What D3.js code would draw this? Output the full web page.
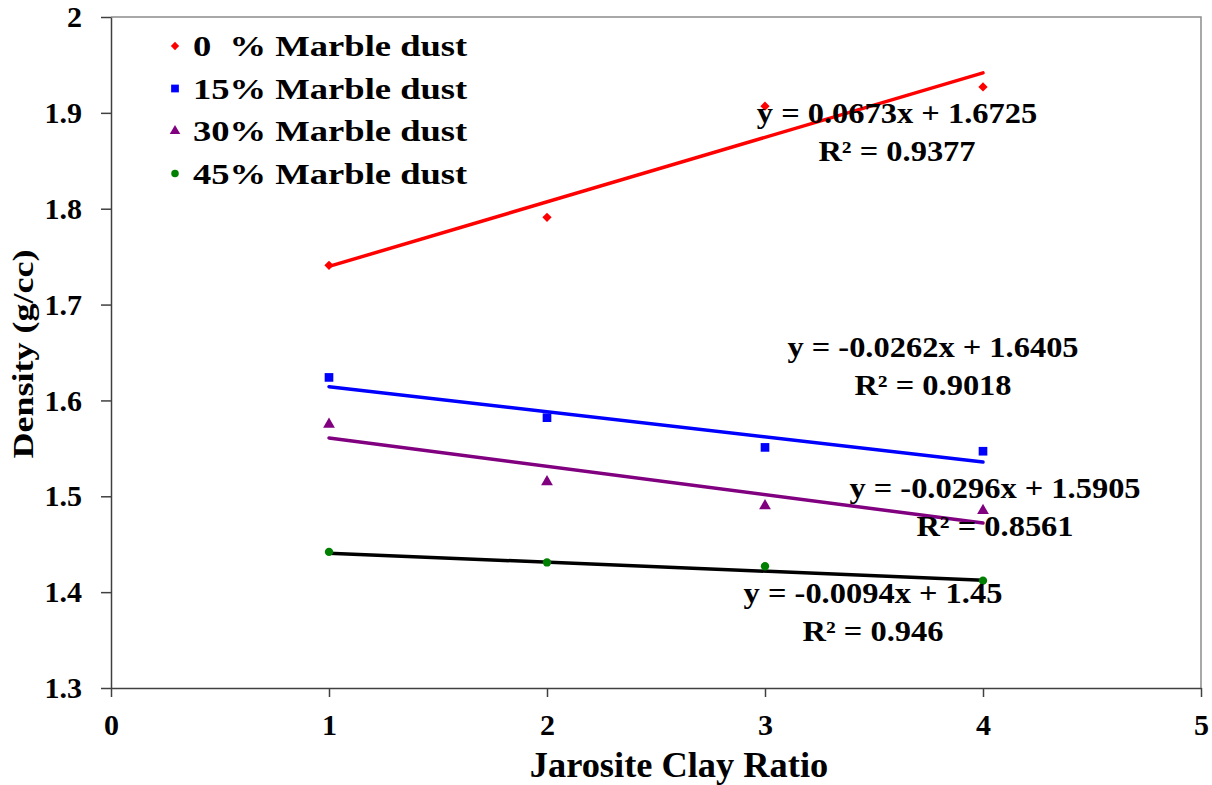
<!DOCTYPE html>
<html>
<head>
<meta charset="utf-8">
<script src="https://cdn.jsdelivr.net/npm/d3@7"></script>
<style>
  html, body { margin: 0; padding: 0; background: #fff; }
  svg text { font-family: "Liberation Serif", "Times New Roman", serif; font-weight: bold; fill: #000; white-space: pre; }
</style>
</head>
<body>
<svg id="chart" width="1212" height="785"></svg>
<script>
// ---- data ----
const xValues = [1, 2, 3, 4];
const seriesNames = ["0  % Marble dust", "15% Marble dust", "30% Marble dust", "45% Marble dust"];
const dens0  = [1.741, 1.791, 1.907, 1.927];
const dens15 = [1.624, 1.582, 1.551, 1.547];
const dens30 = [1.575, 1.515, 1.490, 1.485];
const dens45 = [1.442, 1.431, 1.427, 1.412];
const trendSlopes = [0.0673, -0.0262, -0.0296, -0.0094];
const trendIntercepts = [1.6725, 1.6405, 1.5905, 1.45];
const eqLabels = ["y = 0.0673x + 1.6725", "y = -0.0262x + 1.6405", "y = -0.0296x + 1.5905", "y = -0.0094x + 1.45"];
const r2Labels = ["R² = 0.9377", "R² = 0.9018", "R² = 0.8561", "R² = 0.946"];
const xTicks = [0, 1, 2, 3, 4, 5];
const yTicks = [1.3, 1.4, 1.5, 1.6, 1.7, 1.8, 1.9, 2.0];
const yTickLabels = ["1.3", "1.4", "1.5", "1.6", "1.7", "1.8", "1.9", "2"];
const xTitle = "Jarosite Clay Ratio";
const yTitle = "Density (g/cc)";

// ---- styles / layout ----
const markerColors = ["#ff0000", "#0000ff", "#800080", "#008000"];
const lineColors = ["#ff0000", "#0000ff", "#800080", "#000000"];
const symbols = [d3.symbolDiamond2, d3.symbolSquare, d3.symbolTriangle, d3.symbolCircle];
const symbolSizes = [55, 75, 60, 55];
const eqPos = [[897, 123], [933, 357], [995, 498], [873, 603]]; // center x, baseline of first line (px)

const plot = { left: 111, right: 1201, top: 17, bottom: 688 };
const svg = d3.select("#chart");

const x = d3.scaleLinear().domain([0, 5]).range([plot.left, plot.right]);
const y = d3.scaleLinear().domain([1.3, 2.0]).range([plot.bottom, plot.top]);

const allSeries = [dens0, dens15, dens30, dens45];

// border (top/right)
svg.append("path")
  .attr("d", `M${plot.left},${plot.top}H${plot.right}V${plot.bottom}`)
  .attr("fill", "none").attr("stroke", "#8c8c8c").attr("stroke-width", 1.5);

// axes
const yAxis = d3.axisLeft(y).tickValues(yTicks).tickSize(10).tickSizeOuter(0).tickPadding(19)
  .tickFormat((d, i) => yTickLabels[i]);
const gy = svg.append("g").attr("transform", `translate(${plot.left},0)`).call(yAxis);
const xAxis = d3.axisBottom(x).tickValues(xTicks).tickSize(9).tickSizeOuter(0).tickPadding(17)
  .tickFormat(d3.format("d"));
const gx = svg.append("g").attr("transform", `translate(0,${plot.bottom})`).call(xAxis);
[gx, gy].forEach(g => {
  g.select(".domain").attr("stroke", "#404040").attr("stroke-width", 1.5);
  g.selectAll(".tick line").attr("stroke", "#404040").attr("stroke-width", 1.5);
  g.selectAll(".tick text").style("font-family", '"Liberation Serif", "Times New Roman", serif')
    .style("font-weight", "bold").style("font-size", "30px").attr("fill", "#000");
});

// trend lines
allSeries.forEach((s, i) => {
  const x0 = d3.min(xValues), x1 = d3.max(xValues);
  svg.append("line")
    .attr("x1", x(x0)).attr("y1", y(trendSlopes[i] * x0 + trendIntercepts[i]))
    .attr("x2", x(x1)).attr("y2", y(trendSlopes[i] * x1 + trendIntercepts[i]))
    .attr("stroke", lineColors[i]).attr("stroke-width", 3.5).attr("stroke-linecap", "round");
});

// markers
allSeries.forEach((s, i) => {
  svg.append("g").selectAll("path").data(s).join("path")
    .attr("d", d3.symbol().type(symbols[i]).size(symbolSizes[i]))
    .attr("transform", (d, j) => `translate(${x(xValues[j])},${y(d)})`)
    .attr("fill", markerColors[i]);
});

// stretched text helper
function stext(parent, tx, ty, str, size, sx, anchor, rot) {
  const g = parent.append("g").attr("transform", `translate(${tx},${ty})${rot ? ` rotate(${rot})` : ""} scale(${sx},1)`);
  g.append("text").attr("text-anchor", anchor).style("font-size", size + "px").text(str);
  return g;
}

// equation labels
eqLabels.forEach((t, i) => {
  stext(svg, eqPos[i][0], eqPos[i][1], t, 29, 1.12, "middle");
  stext(svg, eqPos[i][0], eqPos[i][1] + 38, r2Labels[i], 29, 1.12, "middle");
});

// legend
const legend = svg.append("g");
seriesNames.forEach((n, i) => {
  const cy = 46 + i * 42.5;
  legend.append("path")
    .attr("d", d3.symbol().type(symbols[i]).size(symbolSizes[i] * 0.8))
    .attr("transform", `translate(175,${cy})`).attr("fill", markerColors[i]);
  stext(legend, 193, cy + 10, n, 29.5, 1.24, "start");
});

// axis titles
stext(svg, 679, 777, xTitle, 35, 1.04, "middle");
stext(svg, 33, 354, yTitle, 30, 1.2, "middle", -90);
</script>
</body>
</html>
